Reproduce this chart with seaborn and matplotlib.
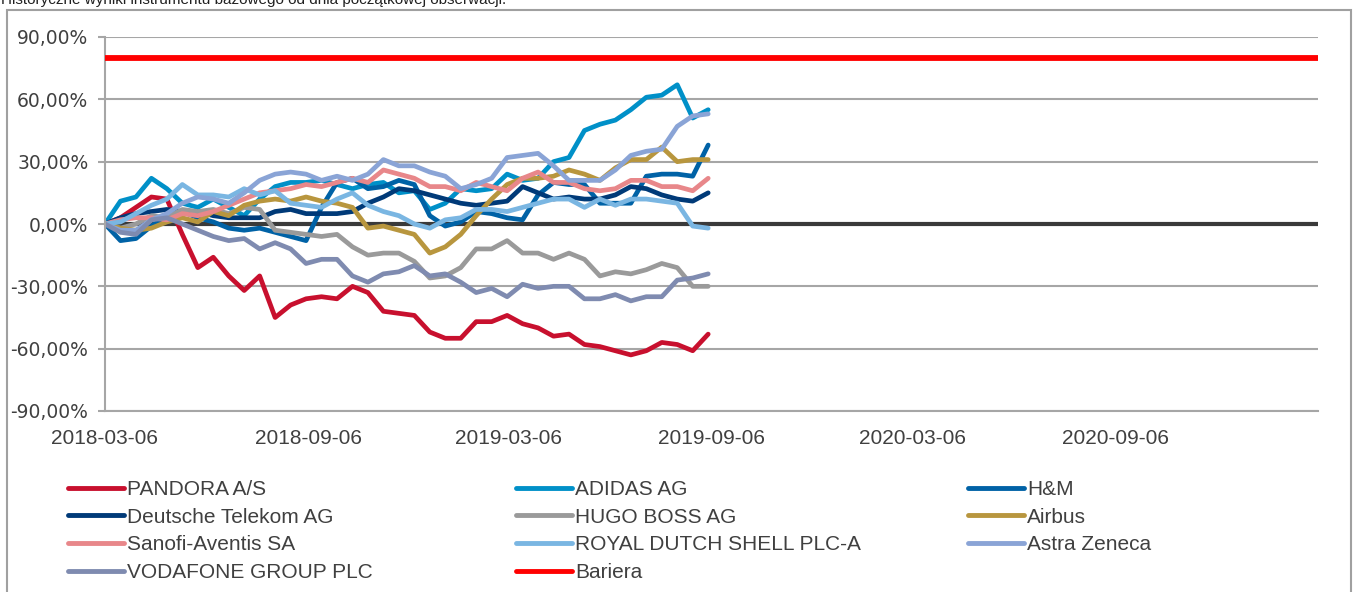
import pandas as pd
import matplotlib.pyplot as plt
import matplotlib.dates as mdates
import matplotlib.ticker as ticker
from matplotlib.lines import Line2D
from matplotlib.patches import Rectangle
import seaborn as sns

# biweekly observations, % change from the start date
start = pd.Timestamp('2018-03-06')
dates = pd.date_range(start, periods=40, freq='14D')
barrier_dates = [start, pd.Timestamp('2021-03-08')]
barrier_level = [80, 80]

pandora = [0, 3, 8, 13, 12, -5, -21, -16, -25, -32, -25, -45, -39, -36, -35, -36, -30, -33, -42, -43,
           -44, -52, -55, -55, -47, -47, -44, -48, -50, -54, -53, -58, -59, -61, -63, -61, -57, -58, -61, -53]
adidas = [0, 11, 13, 22, 17, 10, 8, 12, 8, 4, 12, 18, 20, 20, 21, 19, 17, 19, 20, 15,
          16, 7, 10, 17, 16, 17, 24, 21, 22, 30, 32, 45, 48, 50, 55, 61, 62, 67, 51, 55]
hm = [0, -8, -7, -1, 4, 6, 3, 1, -2, -3, -2, -4, -6, -8, 8, 20, 22, 17, 18, 21,
      19, 4, -1, 1, 6, 5, 3, 2, 14, 20, 19, 19, 10, 10, 10, 23, 24, 24, 23, 38]
telekom = [0, 3, 5, 6, 7, 6, 6, 4, 3, 3, 3, 6, 7, 5, 5, 5, 6, 10, 13, 17,
           16, 14, 12, 10, 9, 10, 11, 18, 15, 12, 13, 12, 12, 14, 18, 17, 14, 12, 11, 15]
hugo = [0, -2, 0, 4, 3, 7, 6, 7, 5, 8, 7, -3, -4, -5, -6, -5, -11, -15, -14, -14,
        -18, -26, -25, -21, -12, -12, -8, -14, -14, -17, -14, -17, -25, -23, -24, -22, -19, -21, -30, -30]
airbus = [0, -2, -3, -2, 1, 3, 1, 6, 4, 9, 11, 12, 11, 13, 11, 10, 8, -2, -1, -3,
          -5, -14, -11, -5, 4, 12, 19, 22, 22, 23, 26, 24, 21, 27, 31, 31, 37, 30, 31, 31]
sanofi = [0, 2, 3, 3, 2, 5, 4, 6, 9, 12, 15, 16, 17, 19, 18, 20, 22, 20, 26, 24,
          22, 18, 18, 16, 20, 18, 16, 22, 25, 20, 20, 17, 16, 17, 21, 21, 18, 18, 16, 22]
shell = [0, 1, 5, 9, 12, 19, 14, 14, 13, 17, 14, 16, 10, 9, 8, 12, 15, 9, 6, 4,
         0, -2, 2, 3, 7, 7, 6, 8, 10, 12, 12, 8, 12, 9, 12, 12, 11, 10, -1, -2]
astra = [0, -3, -3, 2, 5, 10, 13, 12, 10, 15, 21, 24, 25, 24, 21, 23, 21, 24, 31, 28,
         28, 25, 23, 17, 19, 22, 32, 33, 34, 28, 21, 21, 21, 26, 33, 35, 36, 47, 52, 53]
vodafone = [0, -4, -5, 2, 3, 0, -3, -6, -8, -7, -12, -9, -12, -19, -17, -17, -25, -28, -24, -23,
            -20, -25, -24, -28, -33, -31, -35, -29, -31, -30, -30, -36, -36, -34, -37, -35, -35, -27, -26, -24]

names = ['PANDORA A/S', 'ADIDAS AG', 'H&M', 'Deutsche Telekom AG', 'HUGO BOSS AG', 'Airbus',
         'Sanofi-Aventis SA', 'ROYAL DUTCH SHELL PLC-A', 'Astra Zeneca', 'VODAFONE GROUP PLC']
series = [pandora, adidas, hm, telekom, hugo, airbus, sanofi, shell, astra, vodafone]
colors = ['#c8102e', '#0090c8', '#0062a6', '#003a78', '#9a9a9a', '#b8963e',
          '#e8878a', '#7ab6e2', '#8aa4d6', '#7f8bb0']
barrier_name = 'Bariera'
barrier_color = '#ff0000'

ticks = pd.to_datetime(['2018-03-06', '2018-09-06', '2019-03-06',
                        '2019-09-06', '2020-03-06', '2020-09-06'])

df = pd.concat([pd.DataFrame({'date': dates, 'value': v, 'series': n})
                for n, v in zip(names, series)], ignore_index=True)
bar = pd.DataFrame({'date': barrier_dates, 'value': barrier_level})

sns.set_style('white')
plt.rcParams['font.family'] = ['Liberation Sans', 'DejaVu Sans']

W, H = 1359, 592
fig = plt.figure(figsize=(W / 100, H / 100), dpi=100)
ax = fig.add_axes([105 / W, 1 - 411 / H, (1318 - 105) / W, (411 - 37) / H])

ax.axhline(0, color='#3a3a3a', lw=3, zorder=1.5)
sns.lineplot(data=df, x='date', y='value', hue='series', hue_order=names,
             palette=dict(zip(names, colors)), linewidth=3.4, legend=False,
             sort=False, ax=ax, zorder=2)
for line in ax.get_lines():
    line.set_solid_joinstyle('round')
sns.lineplot(data=bar, x='date', y='value', color=barrier_color, linewidth=4.2,
             legend=False, ax=ax, zorder=3)

ax.set_xlim(barrier_dates[0], barrier_dates[1])
ax.set_ylim(-90, 90)
ax.set_yticks(range(-90, 91, 30))
ax.yaxis.set_major_formatter(ticker.FuncFormatter(
    lambda v, pos: '{:.2f}%'.format(v).replace('.', ',')))
ax.set_xticks(ticks)
ax.xaxis.set_major_formatter(mdates.DateFormatter('%Y-%m-%d'))
ax.set_xlabel('')
ax.set_ylabel('')

ax.yaxis.grid(True, color='#a6a6a6', lw=1.5)
ax.xaxis.grid(False)
ax.set_axisbelow(True)
for s in ['top', 'right']:
    ax.spines[s].set_visible(False)
for s in ['left', 'bottom']:
    ax.spines[s].set_color('#a6a6a6')
    ax.spines[s].set_linewidth(1.5)

ax.tick_params(axis='y', left=True, length=5, width=1.5, color='#a6a6a6', pad=7,
               labelsize=13.5, labelcolor='#404040')
ax.tick_params(axis='x', bottom=False, length=0, pad=13, labelsize=15, labelcolor='#404040')
for lab in ax.get_yticklabels():
    lab.set_family('DejaVu Sans')

# legend, three columns filled row by row
labels = names + [barrier_name]
lcolors = colors + [barrier_color]
col_x = [68, 516, 968]
for c in range(3):
    idx = list(range(c, len(labels), 3))
    handles = [Line2D([], [], color=lcolors[i], lw=3.5, solid_capstyle='round') for i in idx]
    fig.legend(handles, [labels[i] for i in idx], loc='upper left',
               bbox_to_anchor=(col_x[c] / W, 1 - 480 / H), frameon=False,
               fontsize=15, handlelength=2.7, handletextpad=0.15,
               labelspacing=0.42, borderpad=0, borderaxespad=0,
               labelcolor='#404040')

fig.text(1 / W, 1 - 4 / H, 'Historyczne wyniki instrumentu bazowego od dnia początkowej obserwacji.',
         fontsize=11, va='baseline', ha='left', color='#202020')
fig.add_artist(Rectangle((7 / W, -0.05), (1351 - 7) / W, 1.05 - 10 / H,
                         transform=fig.transFigure, fill=False,
                         edgecolor='#a0a0a0', lw=1.5))

fig.savefig('out.png', dpi=100)
